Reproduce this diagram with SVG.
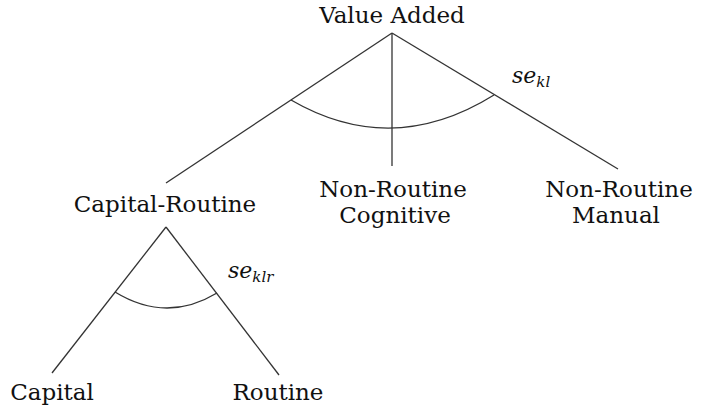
<svg xmlns="http://www.w3.org/2000/svg" width="703" height="413" viewBox="0 0 703 413">
<style>
.t{font-family:'DejaVu Serif',serif;font-size:23px;fill:#111;text-anchor:middle}
.m{font-family:'DejaVu Serif',serif;font-style:italic;fill:#111}
.e{fill:none;stroke:#333;stroke-width:1.3}
</style>
<rect width="703" height="413" fill="#fff"/>
<g id="connectors">
<line class="e" x1="392" y1="33" x2="166" y2="183"/>
<line class="e" x1="392" y1="33" x2="392" y2="166"/>
<line class="e" x1="392" y1="33" x2="618" y2="169"/>
<path class="e" d="M291,100 Q392,158.5 494,95"/>
<line class="e" x1="166" y1="227" x2="52" y2="373"/>
<line class="e" x1="166" y1="227" x2="279" y2="375"/>
<path class="e" d="M115,292 Q166.5,323.5 217,293"/>
</g>
<g id="value-added"><text class="t" x="392" y="23">Value Added</text></g>
<g id="capital-routine"><text class="t" x="165" y="212">Capital-Routine</text></g>
<g id="nr-cognitive"><text class="t" x="393" y="197">Non-Routine</text><text class="t" x="395" y="223">Cognitive</text></g>
<g id="nr-manual"><text class="t" x="619" y="197">Non-Routine</text><text class="t" x="616" y="223">Manual</text></g>
<g id="capital"><text class="t" x="52" y="400">Capital</text></g>
<g id="routine"><text class="t" x="278" y="400">Routine</text></g>
<g id="se-kl"><text class="m" x="512" y="83" font-size="22">se<tspan font-size="15" dy="4">kl</tspan></text></g>
<g id="se-klr"><text class="m" x="228" y="278" font-size="22">se<tspan font-size="15" dy="4">klr</tspan></text></g>
</svg>
